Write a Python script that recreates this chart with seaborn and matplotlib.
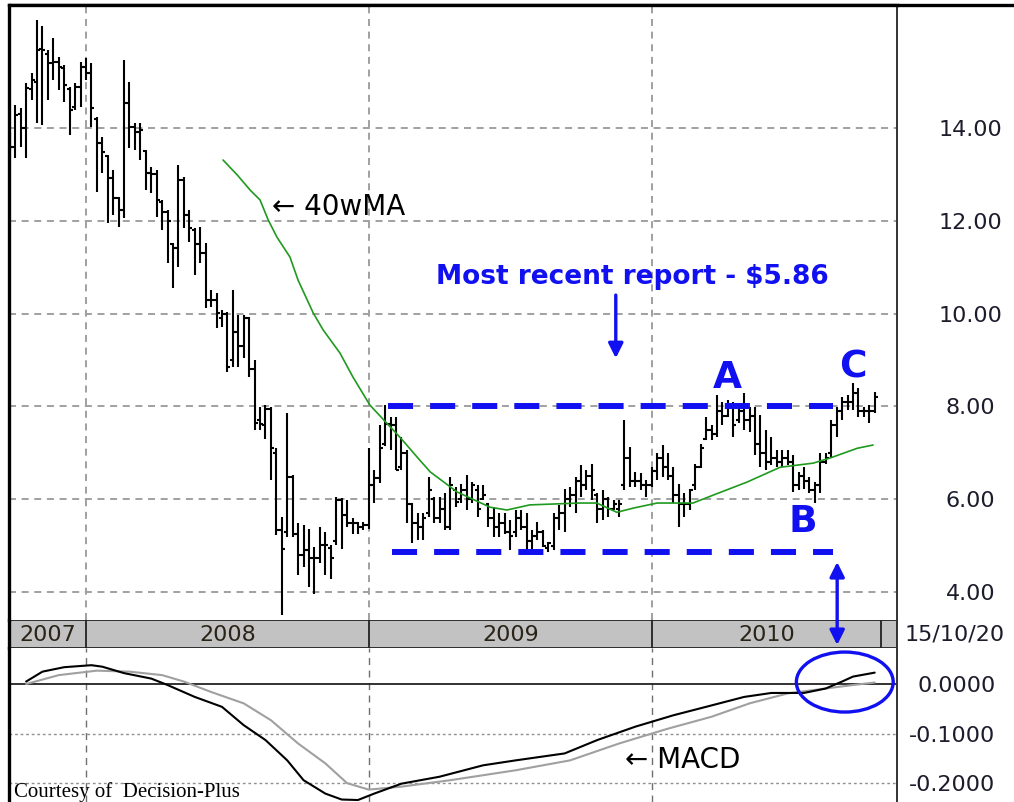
import numpy as np
import pandas as pd
import matplotlib
matplotlib.use('Agg')
import matplotlib.pyplot as plt
import seaborn as sns
from matplotlib.patches import Ellipse
from matplotlib.lines import Line2D

sns.set_style('white')
plt.rcParams['font.family'] = ['DejaVu Sans']

# weekly bars, 28/09/2007 .. 15/10/2010
weeks = pd.date_range('2007-09-28', periods=160, freq='7D')

bar_high = [13.9, 14.5, 14.43, 14.97, 15.18, 16.33, 16.2, 15.68, 15.94, 15.53,
            15.36, 14.88, 14.97, 15.42, 15.5, 15.4, 14.24, 13.8, 13.42, 13.1,
            12.51, 15.47, 14.99, 14.1, 14.1, 13.53, 13.16, 13.1, 12.45, 12.23,
            11.52, 13.2, 12.94, 12.23, 11.84, 11.87, 11.52, 10.51, 10.44, 10.08,
            10.03, 10.51, 9.97, 9.97, 9.93, 9.0, 7.99, 8.03, 7.99, 7.1,
            5.62, 7.85, 6.52, 5.48, 5.44, 5.37, 4.98, 5.41, 5.3, 5.01,
            6.05, 6.02, 5.98, 5.59, 5.52, 5.52, 7.1, 6.63, 7.6, 8.03,
            7.78, 7.78, 7.35, 7.06, 5.91, 5.7, 5.7, 6.49, 6.05, 6.05,
            6.13, 6.49, 6.27, 6.34, 6.52, 6.38, 6.31, 6.31, 5.91, 5.84,
            5.7, 5.7, 5.55, 5.77, 5.77, 5.7, 5.34, 5.52, 5.34, 5.08,
            5.7, 5.87, 6.23, 6.27, 6.49, 6.74, 6.63, 6.77, 6.13, 6.2,
            6.05, 5.98, 5.98, 7.71, 7.13, 6.59, 6.56, 6.41, 6.7, 6.99,
            7.17, 6.99, 6.7, 6.34, 6.13, 6.23, 6.77, 7.2, 7.78, 7.6,
            8.25, 8.1, 8.14, 8.1, 7.99, 8.28, 7.99, 7.99, 7.82, 7.49,
            7.35, 7.06, 7.06, 7.06, 6.95, 6.59, 6.7, 6.49, 6.38, 6.99,
            6.99, 7.71, 7.99, 8.21, 8.25, 8.5, 8.39, 7.99, 8.03, 8.32]
bar_low = [13.5, 13.35, 13.6, 13.35, 14.6, 14.1, 14.06, 14.6, 15.03, 14.82,
           14.56, 13.85, 14.39, 14.45, 15.03, 14.02, 12.62, 13.03, 11.95, 12.12,
           11.87, 12.06, 13.57, 13.53, 13.31, 12.66, 12.6, 12.08, 11.8, 11.09,
           10.55, 11.0, 11.84, 11.54, 10.83, 11.09, 10.12, 10.14, 9.69, 9.71,
           8.74, 8.85, 8.85, 9.04, 8.63, 7.49, 7.49, 7.3, 6.41, 5.23,
           3.5, 5.19, 5.19, 4.37, 4.55, 4.12, 3.97, 4.62, 4.37, 4.29,
           5.01, 4.94, 5.41, 5.26, 5.26, 5.34, 5.37, 5.91, 6.35, 7.15,
           7.06, 6.63, 6.63, 5.48, 5.05, 5.12, 5.12, 5.62, 5.48, 5.48,
           5.34, 5.34, 5.84, 5.91, 5.77, 5.91, 5.62, 5.98, 5.41, 5.19,
           5.19, 5.26, 4.91, 5.19, 5.34, 4.91, 4.91, 5.12, 4.98, 4.87,
           4.91, 5.34, 5.3, 5.84, 5.7, 6.05, 6.2, 5.98, 5.48, 5.55,
           5.62, 5.77, 5.62, 6.2, 6.27, 6.27, 6.2, 6.05, 6.27, 6.41,
           6.49, 6.41, 5.91, 5.41, 5.62, 5.77, 6.2, 6.67, 7.28, 7.28,
           7.35, 7.6, 7.78, 7.35, 7.64, 7.49, 7.46, 6.95, 6.7, 6.63,
           6.74, 6.7, 6.7, 6.74, 6.16, 6.2, 6.23, 6.13, 5.91, 6.13,
           6.77, 6.92, 7.35, 7.71, 7.92, 7.92, 7.78, 7.78, 7.64, 7.85]
bar_open = [13.8, 13.6, 14.3, 14.0, 14.85, 15.0, 15.7, 15.6, 15.4, 15.42,
            15.3, 14.85, 14.45, 14.88, 15.31, 15.18, 14.2, 13.68, 13.4, 12.92,
            12.49, 12.23, 14.54, 14.02, 13.91, 13.5, 13.03, 13.0, 12.4, 12.19,
            11.5, 11.41, 12.88, 12.12, 11.8, 11.5, 11.3, 10.3, 10.3, 9.9,
            10.0, 9.0, 9.6, 9.3, 9.9, 8.8, 7.7, 7.6, 7.95, 7.0,
            5.34, 5.3, 6.48, 5.26, 4.8, 4.9, 4.73, 4.73, 5.01, 4.95,
            5.1, 5.98, 5.66, 5.48, 5.48, 5.41, 5.44, 6.3, 6.45, 7.2,
            7.63, 7.6, 6.7, 7.0, 5.9, 5.5, 5.4, 5.7, 6.0, 5.6,
            5.8, 5.4, 6.2, 6.0, 6.2, 6.0, 6.2, 6.0, 5.9, 5.6,
            5.4, 5.5, 5.3, 5.3, 5.6, 5.4, 5.1, 5.2, 5.3, 4.95,
            5.0, 5.6, 5.7, 6.0, 6.1, 6.4, 6.3, 6.5, 6.1, 5.8,
            6.0, 5.8, 5.8, 6.3, 6.9, 6.4, 6.4, 6.3, 6.3, 6.6,
            6.9, 6.7, 6.5, 6.1, 5.9, 5.9, 6.3, 6.7, 7.3, 7.5,
            7.4, 7.9, 7.8, 8.0, 7.7, 7.9, 7.7, 7.8, 7.2, 7.0,
            6.8, 6.9, 6.8, 6.9, 6.8, 6.3, 6.5, 6.4, 6.2, 6.3,
            6.8, 7.0, 7.6, 7.9, 8.1, 8.1, 8.3, 7.9, 7.9, 7.9]
bar_close = [13.6, 14.28, 14.0, 14.86, 15.03, 15.68, 15.68, 15.4, 15.42, 15.31,
             14.93, 14.39, 14.88, 15.31, 15.18, 14.43, 13.68, 13.48, 12.92, 12.49,
             12.23, 14.54, 14.02, 13.91, 13.95, 13.03, 13.0, 12.45, 12.19, 12.0,
             11.41, 12.88, 12.12, 11.85, 11.5, 11.3, 10.29, 10.3, 10.01, 10.0,
             8.85, 9.6, 9.3, 9.9, 8.8, 7.64, 7.63, 7.95, 7.1, 5.34,
             4.94, 6.48, 5.26, 4.8, 4.9, 4.73, 4.73, 5.01, 5.01, 4.73,
             5.98, 5.66, 5.48, 5.48, 5.41, 5.44, 6.3, 6.45, 7.1, 7.63,
             7.6, 6.63, 7.0, 5.9, 5.5, 5.4, 5.6, 6.2, 5.6, 5.8,
             5.4, 6.3, 5.95, 6.2, 6.0, 6.3, 5.8, 6.1, 5.6, 5.4,
             5.5, 5.3, 5.2, 5.6, 5.4, 5.1, 5.2, 5.3, 5.0, 5.05,
             5.6, 5.7, 6.0, 6.1, 6.4, 6.3, 6.5, 6.2, 5.8, 6.0,
             5.8, 5.9, 5.9, 6.9, 6.4, 6.4, 6.3, 6.3, 6.6, 6.9,
             6.7, 6.5, 6.1, 5.9, 5.9, 6.2, 6.7, 7.1, 7.5, 7.4,
             7.9, 7.8, 8.0, 7.6, 7.9, 7.7, 7.8, 7.2, 7.0, 6.8,
             6.9, 6.8, 6.9, 6.8, 6.3, 6.5, 6.4, 6.2, 6.3, 6.8,
             6.9, 7.6, 7.9, 8.1, 8.1, 8.3, 7.9, 7.9, 7.9, 8.2]

# 40 week moving average (bar number, price)
ma_week = [39.2, 41.8, 44.2, 46.0, 47.5, 49.1, 51.5, 53.0, 55.8, 57.6, 60.7,
           63.1, 66.2, 69.3, 71.7, 75.4, 77.3, 82.2, 88.3, 91.4, 95.6, 104.8,
           107.9, 111.6, 114.6, 119.0, 125.6, 129.3, 135.5, 141.6, 147.7,
           150.8, 155.8, 158.7]
ma_value = [13.31, 12.99, 12.66, 12.45, 12.02, 11.65, 11.22, 10.72, 10.01,
            9.65, 9.15, 8.63, 8.03, 7.64, 7.34, 6.84, 6.59, 6.16, 5.83, 5.77,
            5.88, 5.92, 5.92, 5.72, 5.81, 5.92, 5.92, 6.09, 6.37, 6.69, 6.78,
            6.89, 7.10, 7.17]

# MACD and signal line (bar number, value)
macd_week = [3, 6, 10, 15, 17, 21, 26, 29, 34, 39, 43, 47, 51, 54, 58, 61, 64,
             67, 72, 79, 87, 93, 102, 108, 115, 122, 128, 135, 140, 146, 150,
             153, 155, 159]
macd_value = [0.005, 0.025, 0.034, 0.038, 0.035, 0.022, 0.011, -0.002, -0.026,
              -0.046, -0.083, -0.113, -0.154, -0.194, -0.221, -0.233, -0.234,
              -0.221, -0.201, -0.187, -0.164, -0.154, -0.140, -0.113, -0.086,
              -0.063, -0.046, -0.026, -0.018, -0.018, -0.009, 0.005, 0.015, 0.023]
signal_week = [3, 9, 16, 22, 28, 32, 37, 43, 48, 53, 58, 62, 66, 72, 81, 93,
               103, 112, 121, 129, 136, 143, 150, 155, 159]
signal_value = [0.0, 0.018, 0.027, 0.025, 0.018, 0.005, -0.016, -0.039, -0.073,
                -0.12, -0.16, -0.2, -0.213, -0.207, -0.194, -0.174, -0.154,
                -0.12, -0.09, -0.066, -0.039, -0.019, -0.009, -0.002, 0.003]

resistance = 8.0
support = 4.86
range_start = [69.5, 70.3]
range_end = 151.3
report_week = 111.4
cross_week = 152.1

year_labels = ['2007', '2008', '2009', '2010']
last_label = '15/10/20'
price_ticks = [4, 6, 8, 10, 12, 14]
price_labels = ['4.00', '6.00', '8.00', '10.00', '12.00', '14.00']
macd_ticks = [0.0, -0.1, -0.2]
macd_labels = ['0.0000', '-0.1000', '-0.2000']

idx = np.arange(len(weeks))
year_start = [int(np.argmax(weeks.year == y)) for y in (2008, 2009, 2010)]
xmin, xmax = -0.15, 163.1

blue = '#1010f0'
grid_c = '#a0a0a0'
lab_c = '#1c1c2c'

W, H = 1014, 802
fig = plt.figure(figsize=(W / 100, H / 100), dpi=100)
ax = fig.add_axes([9 / W, 1 - 620 / H, 888 / W, 615 / H])
band = fig.add_axes([9 / W, 1 - 648 / H, 888 / W, 28 / H])
ax2 = fig.add_axes([9 / W, 0, 888 / W, 154 / H])
ax.set_zorder(3)
band.set_zorder(1)
ax2.set_zorder(2)

# ---- price panel
for p in price_ticks:
    ax.axhline(p, color=grid_c, lw=1.4, ls=(0, (3.6, 2.9)), zorder=0)
for s in year_start:
    ax.axvline(s, color=grid_c, lw=1.4, ls=(0, (3.6, 2.9)), zorder=0)

ax.vlines(idx, bar_low, bar_high, color='black', lw=1.5, zorder=2)
ax.hlines(bar_open, idx - 0.55, idx, color='black', lw=1.5, zorder=2)
ax.hlines(bar_close, idx, idx + 0.55, color='black', lw=1.5, zorder=2)

sns.lineplot(x=ma_week, y=ma_value, ax=ax, color='#1f9a1f', lw=1.2,
             legend=False, zorder=3)

for lvl, st in zip([resistance, support], range_start):
    ax.plot([st, range_end], [lvl, lvl], color=blue, lw=4.3,
            ls=(0, (4.2, 2.85)), solid_capstyle='butt', dash_capstyle='butt',
            zorder=4)

ax.text(48.2, 12.3, '\u2190 40wMA', fontsize=20, color='black',
        ha='left', va='center')
ax.text(114.4, 10.79, 'Most recent report - $5.86', fontsize=19,
        fontweight='bold', color=blue, ha='center', va='center')
ax.annotate('', xy=(report_week, 9.04), xytext=(report_week, 10.40),
            arrowprops=dict(arrowstyle='-|>', color=blue, lw=2.4,
                            mutation_scale=22, shrinkA=0, shrinkB=0))
ax.annotate('', xy=(cross_week, 4.65), xytext=(cross_week, 2.86),
            arrowprops=dict(arrowstyle='<|-|>', color=blue, lw=2.4,
                            mutation_scale=22, shrinkA=0, shrinkB=0),
            annotation_clip=False)
for lab, x, y in [('A', 131.9, 8.61), ('B', 145.8, 5.51), ('C', 155.0, 8.85)]:
    ax.text(x, y, lab, fontsize=27, fontweight='bold', color=blue,
            ha='center', va='center')

ax.set_xlim(xmin, xmax)
ax.set_ylim(3.40, 16.65)
ax.set_xticks([])
ax.yaxis.tick_right()
ax.set_yticks(price_ticks)
ax.set_yticklabels(price_labels)
ax.tick_params(axis='y', length=0, pad=53, labelsize=16, labelcolor=lab_c)
for t in ax.get_yticklabels():
    t.set_ha('center')
ax.set_ylabel('')
ax.spines['bottom'].set_visible(False)
ax.spines['left'].set_linewidth(2.4)
ax.spines['left'].set_color('black')
ax.spines['top'].set_linewidth(2.4)
ax.spines['top'].set_color('black')
ax.spines['right'].set_linewidth(1.4)
ax.spines['right'].set_color('#333333')

# ---- year band
band.set_facecolor('#c2c2c2')
band.set_xlim(xmin, xmax)
band.set_ylim(0, 1)
band.set_xticks([])
band.set_yticks([])
edges = [xmin] + year_start + [len(weeks) + 0.2]
for s in edges[1:]:
    band.axvline(s, color='#222222', lw=1.3)
for lab, a, b in zip(year_labels, edges[:-1], edges[1:]):
    band.text((a + b) / 2, 0.48, lab, fontsize=16, color='#2a2418',
              ha='center', va='center')
band.text(1.008, 0.48, last_label, transform=band.transAxes, fontsize=16,
          color=lab_c, ha='left', va='center', clip_on=False)
for side in band.spines:
    band.spines[side].set_color('#222222')
    band.spines[side].set_linewidth(1.3)
band.spines['left'].set_linewidth(2.4)
band.spines['left'].set_color('black')

# ---- MACD panel
for v in macd_ticks[1:]:
    ax2.axhline(v, color='#909090', lw=1.0, ls=(0, (2, 2)), zorder=0)
for s in year_start:
    ax2.axvline(s, color='#707070', lw=1.0, ls=(0, (5, 4)), zorder=0)
ax2.axhline(0, color='#222222', lw=1.3, zorder=1)
sns.lineplot(x=signal_week, y=signal_value, ax=ax2, color='#a0a0a0', lw=1.5,
             legend=False, zorder=2)
sns.lineplot(x=macd_week, y=macd_value, ax=ax2, color='black', lw=1.5,
             legend=False, zorder=3)
ax2.add_patch(Ellipse((153.5, 0.004), width=17.8, height=0.121, fill=False,
                      ec=blue, lw=2.4, zorder=5))
ax2.text(113.1, -0.1535, '\u2190 MACD', fontsize=20, color='black',
         ha='left', va='center')
ax2.text(0.8, -0.218, 'Courtesy of  Decision-Plus', fontsize=15,
         family=['Liberation Serif', 'DejaVu Serif'], color='black',
         ha='left', va='center')

ax2.set_xlim(xmin, xmax)
ax2.set_ylim(-0.238, 0.0727)
ax2.set_xticks([])
ax2.set_xlabel('')
ax2.set_ylabel('')
ax2.yaxis.tick_right()
ax2.set_yticks(macd_ticks)
ax2.set_yticklabels(macd_labels)
ax2.tick_params(axis='y', length=0, pad=71, labelsize=16, labelcolor=lab_c)
for t in ax2.get_yticklabels():
    t.set_ha('right')
ax2.spines['top'].set_visible(False)
ax2.spines['bottom'].set_visible(False)
ax2.spines['left'].set_linewidth(2.4)
ax2.spines['left'].set_color('black')
ax2.spines['right'].set_linewidth(1.4)
ax2.spines['right'].set_color('#333333')

# frame line along the very top
fig.add_artist(Line2D([9 / W, 1], [1 - 5 / H, 1 - 5 / H], color='black',
                      lw=2.4, transform=fig.transFigure))

fig.savefig('out.png', dpi=100, facecolor='white')
